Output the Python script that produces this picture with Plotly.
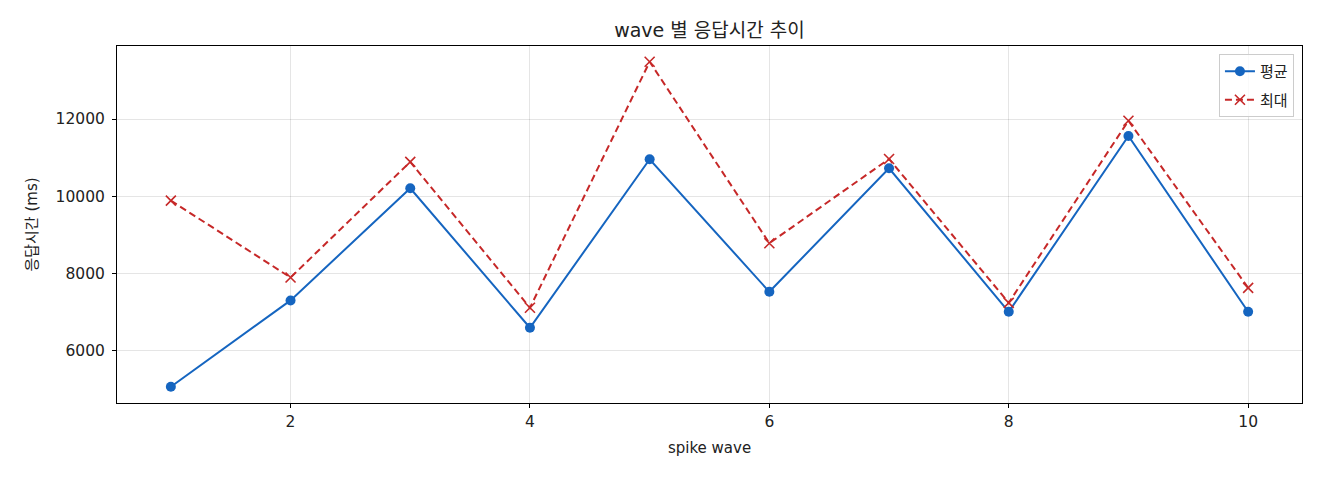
import plotly.graph_objects as go

waves = [1, 2, 3, 4, 5, 6, 7, 8, 9, 10]
avg_ms = [5067, 7303, 10207, 6595, 10957, 7526, 10724, 7009, 11560, 7009]
max_ms = [9886, 7896, 10889, 7112, 13482, 8784, 10965, 7241, 11956, 7629]
y_ticks = [6000, 8000, 10000, 12000]
x_ticks = [2, 4, 6, 8, 10]

# wide latin glyphs from DejaVu, hangul falls back to Noto CJK
font_name = "DejaVu Sans, Noto Sans CJK KR"

# the page body has an 8px margin, so the figure is a bit smaller than the window
W, H = 1312, 472
L, R, T, B = 109, 18, 38, 77

fig = go.Figure()
fig.add_trace(go.Scatter(
    x=waves, y=avg_ms, name="평균", mode="lines+markers", legendgroup="a",
    line=dict(color="#1565C0", width=2),
    marker=dict(symbol="circle", size=10, color="#1565C0"),
))
fig.add_trace(go.Scatter(
    x=waves, y=max_ms, name="최대", mode="lines+markers", legendgroup="b",
    line=dict(color="#C62828", width=2, dash="7px,4px"),
    marker=dict(symbol="x-thin", size=10, line=dict(color="#C62828", width=1.6)),
))

axis_style = dict(
    showline=True, linecolor="black", linewidth=1, mirror=True,
    ticks="outside", ticklen=4, tickcolor="black",
    showgrid=True, gridcolor="rgba(0,0,0,0.1)", gridwidth=1,
    zeroline=False, tickfont=dict(size=15.5, color="#222"),
)

fig.update_layout(
    width=W, height=H,
    margin=dict(l=L, r=R, t=T, b=B),
    paper_bgcolor="white", plot_bgcolor="white",
    font=dict(family=font_name, color="#222"),
    title=dict(text="wave 별 응답시간 추이", x=(L + (W - R)) / 2 / W, xanchor="center",
               y=1 - 22 / H, yanchor="middle", font=dict(size=19)),
    xaxis=dict(axis_style, range=[0.55, 10.45], tickvals=x_ticks,
               ticktext=[str(v) for v in x_ticks],
               title=dict(text="spike wave", font=dict(size=15), standoff=12)),
    yaxis=dict(axis_style, range=[4647, 13890], tickvals=y_ticks,
               ticktext=[str(v) for v in y_ticks], ticklabelstandoff=4,
               title=dict(text="응답시간 (ms)", font=dict(size=15), standoff=14)),
    legend=dict(x=0.9932, y=0.9776, xanchor="right", yanchor="top",
                bgcolor="rgba(255,255,255,0.8)", bordercolor="#ccc", borderwidth=1,
                font=dict(size=15), traceorder="grouped", tracegroupgap=6),
    showlegend=True,
)

fig.write_html("out.html")
